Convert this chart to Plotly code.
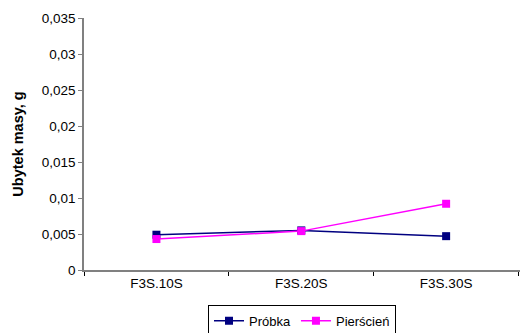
import plotly.graph_objects as go

categories = ["F3S.10S", "F3S.20S", "F3S.30S"]
probka = [0.0049, 0.0055, 0.0047]
pierscien = [0.0043, 0.0054, 0.0092]
y_ticks = [0, 0.005, 0.01, 0.015, 0.02, 0.025, 0.03, 0.035]

fig = go.Figure()
fig.add_trace(go.Scatter(x=categories, y=probka, name="Próbka", mode="lines+markers",
                         line=dict(color="#000080", width=1.5),
                         marker=dict(symbol="square", size=8, color="#000080")))
fig.add_trace(go.Scatter(x=categories, y=pierscien, name="Pierścień", mode="lines+markers",
                         line=dict(color="#FF00FF", width=1.5),
                         marker=dict(symbol="square", size=8, color="#FF00FF")))

fig.update_layout(
    width=520, height=333,
    margin=dict(l=84, r=0, t=18, b=63),
    paper_bgcolor="white", plot_bgcolor="white",
    separators=",.",
    font=dict(family="Liberation Sans, Arial", size=13.5, color="black"),
    xaxis=dict(type="category", range=[-0.5, 2.51], showgrid=False, showline=True,
               linecolor="#808080", linewidth=1.5, ticks="outside", tickson="boundaries",
               ticklen=4, tickcolor="#000000", tickfont=dict(size=13.5), automargin=False),
    yaxis=dict(range=[0, 0.035], tickvals=y_ticks, showgrid=False, showline=True,
               linecolor="#808080", linewidth=1.5, ticks="outside", ticklen=4,
               tickcolor="#808080", tickfont=dict(size=13.5), automargin=False,
               title=dict(text="<b>Ubytek masy, g</b>", font=dict(size=14.5), standoff=15)),
    legend=dict(orientation="h", x=0.5, xanchor="center", xref="paper",
                yref="container", y=0.085, yanchor="top",
                bordercolor="black", borderwidth=1, font=dict(size=13),
                itemwidth=30, tracegroupgap=0),
    showlegend=True,
)

fig.write_html("out.html")
